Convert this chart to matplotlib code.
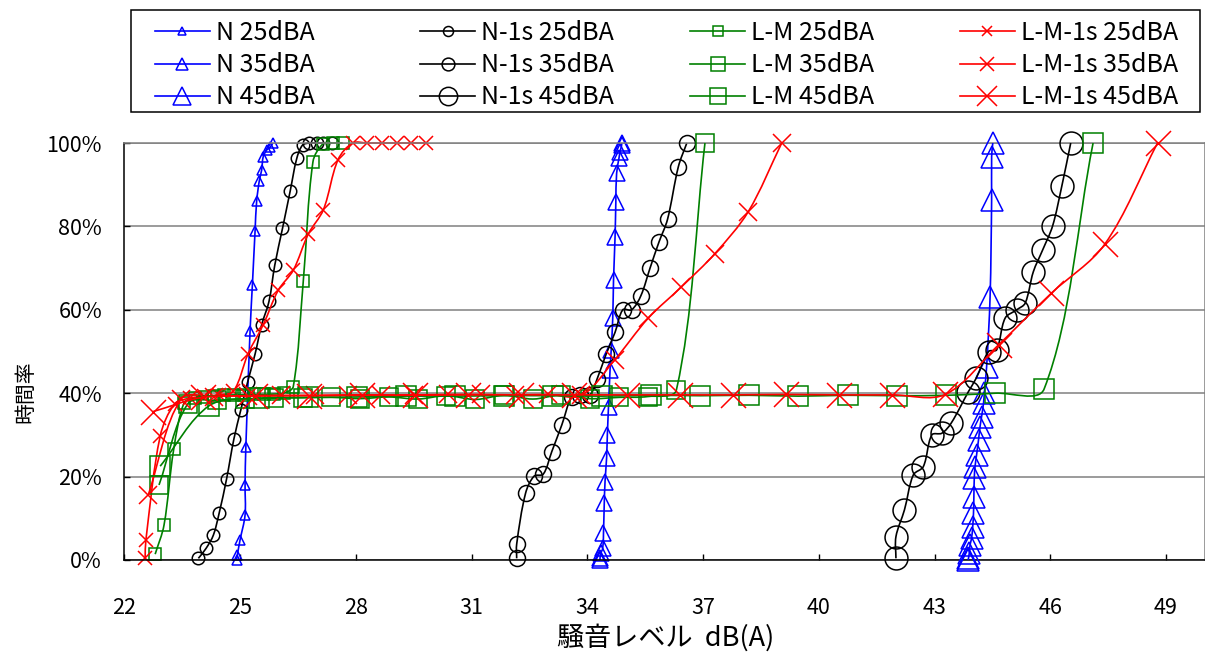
import numpy as np
import matplotlib
matplotlib.use("Agg")
import matplotlib.pyplot as plt
from matplotlib.path import Path
from matplotlib.patches import PathPatch, Rectangle
from matplotlib.lines import Line2D
from matplotlib.ticker import PercentFormatter

plt.rcParams['font.family'] = ['Noto Sans CJK JP', 'DejaVu Sans']

# ---------------- data (level dB(A), time rate %) ----------------
n25_x = [24.91, 24.93, 25.00, 25.13, 25.13, 25.15, 25.26, 25.32, 25.39, 25.43, 25.50, 25.56, 25.60, 25.69, 25.78, 25.85]
n25_y = [0, 1.2, 4.8, 10.8, 18, 27, 55, 66, 79, 86, 91, 93.5, 96.7, 98.3, 99, 100]

n35_x = [34.33, 34.33, 34.35, 34.40, 34.42, 34.44, 34.46, 34.50, 34.52, 34.55, 34.59, 34.62, 34.66, 34.68, 34.72, 34.74, 34.76, 34.82, 34.85, 34.89, 34.89]
n35_y = [0, 0.4, 1.6, 2.8, 6.4, 13.6, 18.8, 24.4, 30, 36.8, 45.6, 50.4, 58, 67.1, 77.5, 85.9, 92.7, 96.3, 97.9, 99.5, 100]

n45_x = [43.87, 43.88, 43.90, 43.92, 43.96, 43.99, 44.01, 44.02, 44.03, 44.05, 44.09, 44.14, 44.18, 44.22, 44.27, 44.29, 44.35, 44.44, 44.48, 44.48, 44.51]
n45_y = [0, 0.4, 1.6, 3.6, 5.2, 8, 11.2, 15.2, 19.6, 22.4, 25.2, 28.8, 32, 34.4, 37.6, 40, 46.3, 63.1, 86.3, 96.7, 100]

n1s25_x = [23.92, 24.12, 24.31, 24.46, 24.65, 24.84, 25.02, 25.20, 25.39, 25.56, 25.75, 25.90, 26.10, 26.30, 26.47, 26.62, 26.80, 26.99, 27.16, 27.38]
n1s25_y = [0.4, 2.8, 6, 11.3, 19.4, 29, 36, 42.8, 49.4, 56.4, 62, 70.7, 79.5, 88.5, 96.3, 99.5, 100, 100, 100, 100]

n1s35_x = [32.17, 32.17, 32.40, 32.62, 32.86, 33.08, 33.34, 33.60, 33.81, 34.07, 34.25, 34.49, 34.72, 34.92, 35.15, 35.39, 35.63, 35.86, 36.08, 36.36, 36.58]
n1s35_y = [0.4, 3.8, 16, 20.1, 20.6, 26, 32.4, 39.2, 39.6, 39.6, 43.3, 49.4, 54.6, 60, 60, 63.4, 70.1, 76.3, 81.7, 94.3, 100]

n1s45_x = [42.00, 42.00, 42.22, 42.45, 42.71, 42.93, 43.19, 43.43, 43.88, 44.08, 44.40, 44.61, 44.83, 45.13, 45.35, 45.56, 45.80, 46.06, 46.30, 46.53]
n1s45_y = [0.4, 5.6, 12, 20.4, 22.4, 30, 30.4, 32.8, 40.4, 43.6, 50, 50.4, 58, 60, 61.6, 69.1, 74.3, 80.1, 89.7, 100]

lm25_x = [22.80, 23.03, 23.28, 23.55, 23.82, 24.08, 24.33, 24.59, 24.85, 25.10, 25.36, 25.61, 25.87, 26.13, 26.38, 26.64, 26.89, 27.15, 27.40, 27.66]
lm25_y = [1.4, 8.4, 26.5, 37.7, 38.8, 39.2, 39.4, 39.5, 39.6, 39.6, 39.7, 39.7, 39.8, 40.0, 41.6, 67.0, 95.5, 99.8, 100, 100]

lm35_x = [22.90, 23.65, 24.39, 25.14, 25.88, 26.63, 27.37, 28.12, 28.86, 29.61, 30.35, 31.10, 31.84, 32.59, 33.33, 34.08, 34.82, 35.57, 36.31, 37.05]
lm35_y = [18.0, 37.5, 38.3, 38.6, 38.8, 38.9, 39.0, 38.7, 39.1, 38.6, 39.4, 38.5, 39.5, 38.6, 39.6, 38.7, 39.0, 39.2, 40.8, 100]

lm45_x = [22.93, 24.20, 25.48, 26.75, 28.02, 29.29, 30.57, 31.84, 33.11, 34.38, 35.66, 36.93, 38.20, 39.47, 40.75, 42.02, 43.29, 44.57, 45.84, 47.11]
lm45_y = [22.5, 37.0, 38.8, 39.0, 39.1, 39.3, 39.3, 39.4, 39.4, 39.3, 39.5, 39.4, 39.5, 39.3, 39.5, 39.4, 39.5, 40.0, 41.0, 100]

lm1s25_x = [22.54, 22.56, 22.93, 23.31, 23.69, 24.07, 24.45, 24.83, 25.21, 25.60, 25.99, 26.38, 26.77, 27.16, 27.54, 27.92, 28.30, 28.68, 29.06, 29.44, 29.82]
lm1s25_y = [0.4, 4.8, 29.7, 37.5, 38.8, 39.3, 39.6, 40.5, 49.5, 56.4, 64.7, 69.5, 78.2, 84.0, 96.0, 100, 100, 100, 100, 100, 100]

lm1s35_x = [22.62, 23.47, 24.33, 25.20, 26.06, 26.93, 27.79, 28.66, 29.52, 30.39, 31.25, 32.12, 32.98, 33.85, 34.71, 35.58, 36.44, 37.31, 38.17, 39.04]
lm1s35_y = [15.6, 38.6, 39.2, 39.4, 39.5, 39.5, 39.6, 39.6, 39.6, 39.7, 39.7, 39.6, 39.7, 39.5, 48.0, 58.0, 65.5, 73.5, 83.5, 100]

lm1s45_x = [22.75, 24.03, 25.40, 26.78, 28.15, 29.53, 30.90, 32.28, 33.65, 35.03, 36.40, 37.78, 39.15, 40.53, 41.91, 43.28, 44.66, 46.03, 47.41, 48.78]
lm1s45_y = [35.6, 39.0, 39.3, 39.4, 39.5, 39.5, 39.6, 39.6, 39.6, 39.6, 39.6, 39.6, 39.7, 39.6, 39.6, 39.7, 51.6, 64.0, 75.7, 100]

x_ticks = [22, 25, 28, 31, 34, 37, 40, 43, 46, 49]
y_ticks = [0, 20, 40, 60, 80, 100]

# --------------- series definitions (Excel order) ---------------
BLUE, BLACK, GREEN, RED = '#0000FF', '#000000', '#008000', '#FF0000'
series = [
    ("N 25dBA", n25_x, n25_y, BLUE, '^', 6.5),
    ("N-1s 25dBA", n1s25_x, n1s25_y, BLACK, 'o', 9.0),
    ("L-M 25dBA", lm25_x, lm25_y, GREEN, 's', 9.0),
    ("L-M-1s 25dBA", lm1s25_x, lm1s25_y, RED, 'x', 9.5),
    ("N 35dBA", n35_x, n35_y, BLUE, '^', 11.0),
    ("N-1s 35dBA", n1s35_x, n1s35_y, BLACK, 'o', 11.5),
    ("L-M 35dBA", lm35_x, lm35_y, GREEN, 's', 12.5),
    ("L-M-1s 35dBA", lm1s35_x, lm1s35_y, RED, 'x', 13.0),
    ("N 45dBA", n45_x, n45_y, BLUE, '^', 16.0),
    ("N-1s 45dBA", n1s45_x, n1s45_y, BLACK, 'o', 16.5),
    ("L-M 45dBA", lm45_x, lm45_y, GREEN, 's', 14.0),
    ("L-M-1s 45dBA", lm1s45_x, lm1s45_y, RED, 'x', 18.0),
]

W, H = 1205, 654
fig = plt.figure(figsize=(W / 100, H / 100), dpi=100)
ax = fig.add_axes([124.3 / W, 1 - 560 / H, (1204.6 - 124.3) / W, (560 - 143) / H])
ax.set_xlim(22, 50)
ax.set_ylim(0, 100)


def smooth_path(x, y):
    """Excel-like smoothed line: cubic Bezier, tangents weighted by on-screen segment length."""
    p = np.column_stack([x, y]).astype(float)
    q = ax.transData.transform(p)          # screen positions for segment lengths
    n = len(p)
    d = np.hypot(*np.diff(q, axis=0).T)
    verts = [p[0]]
    codes = [Path.MOVETO]
    for i in range(n - 1):
        i0 = max(i - 1, 0)
        i3 = min(i + 2, n - 1)
        d01 = d[i - 1] if i > 0 else 0.0
        d12 = d[i]
        d23 = d[i + 1] if i + 2 < n else 0.0
        f1 = d12 / (d01 + d12) if (d01 + d12) > 0 else 0.5
        f2 = d12 / (d12 + d23) if (d12 + d23) > 0 else 0.5
        c1 = p[i] + (p[i + 1] - p[i0]) * f1 / 3.0
        c2 = p[i + 1] - (p[i3] - p[i]) * f2 / 3.0
        verts += [c1, c2, p[i + 1]]
        codes += [Path.CURVE4] * 3
    return Path(np.array(verts), codes)


LW = 1.2
MEW = 1.1
handles = {}
for i, (name, xs, ys, col, mk, ms) in enumerate(series):
    ax.add_patch(PathPatch(smooth_path(xs, ys), facecolor='none', edgecolor=col,
                           lw=LW, zorder=2 + i * 0.1, clip_on=False))
    ax.plot(xs, ys, linestyle='none', marker=mk, ms=ms, mfc='none', mec=col,
            mew=MEW, zorder=2.05 + i * 0.1, clip_on=False)
    handles[name] = Line2D([], [], color=col, lw=LW, marker=mk, ms=ms * 0.8,
                           mfc='none', mec=col, mew=MEW)

ax.set_xticks(x_ticks)
ax.set_yticks(y_ticks)
ax.yaxis.set_major_formatter(PercentFormatter(decimals=0))
ax.grid(axis='y', color='#808080', lw=1.1, zorder=0)
ax.grid(axis='x', visible=False)
ax.set_axisbelow(True)

for s in ('left', 'bottom'):
    ax.spines[s].set_color('black')
    ax.spines[s].set_linewidth(1.1)
for s in ('top', 'right'):
    ax.spines[s].set_color('#808080')
    ax.spines[s].set_linewidth(1.1)

ax.tick_params(axis='x', direction='in', length=4, width=1, pad=27, labelsize=15.5)
ax.tick_params(axis='y', direction='in', length=4, width=1, pad=16, labelsize=15.5)

ax.set_xlabel('騒音レベル  dB(A)', fontsize=19.5)
ax.xaxis.label.set_va('center')
ax.xaxis.set_label_coords(0.501, (560 - 638) / 417)
ax.set_ylabel('時間率', fontsize=15)
ax.yaxis.label.set_va('center')
ax.yaxis.set_label_coords((25 - 124.3) / 1080.3, (560 - 392) / 417)

# ---------------- legend (4 columns, Excel layout) ----------------
fig.add_artist(Rectangle((131 / W, 1 - 112 / H), (1200 - 131) / W, (112 - 10) / H,
                         transform=fig.transFigure, facecolor='white',
                         edgecolor='black', lw=1.1))
col_groups = [
    ["N 25dBA", "N 35dBA", "N 45dBA"],
    ["N-1s 25dBA", "N-1s 35dBA", "N-1s 45dBA"],
    ["L-M 25dBA", "L-M 35dBA", "L-M 45dBA"],
    ["L-M-1s 25dBA", "L-M-1s 35dBA", "L-M-1s 45dBA"],
]
col_x = [155, 420, 690, 960]
for cx, names in zip(col_x, col_groups):
    fig.legend([handles[n] for n in names], names, loc='upper left',
               bbox_to_anchor=(cx / W, 1 - 20 / H), bbox_transform=fig.transFigure,
               frameon=False, borderpad=0, borderaxespad=0, labelspacing=0.25,
               handlelength=2.2, handletextpad=0.25, numpoints=1, fontsize=18)

fig.savefig('out.png', dpi=100)
